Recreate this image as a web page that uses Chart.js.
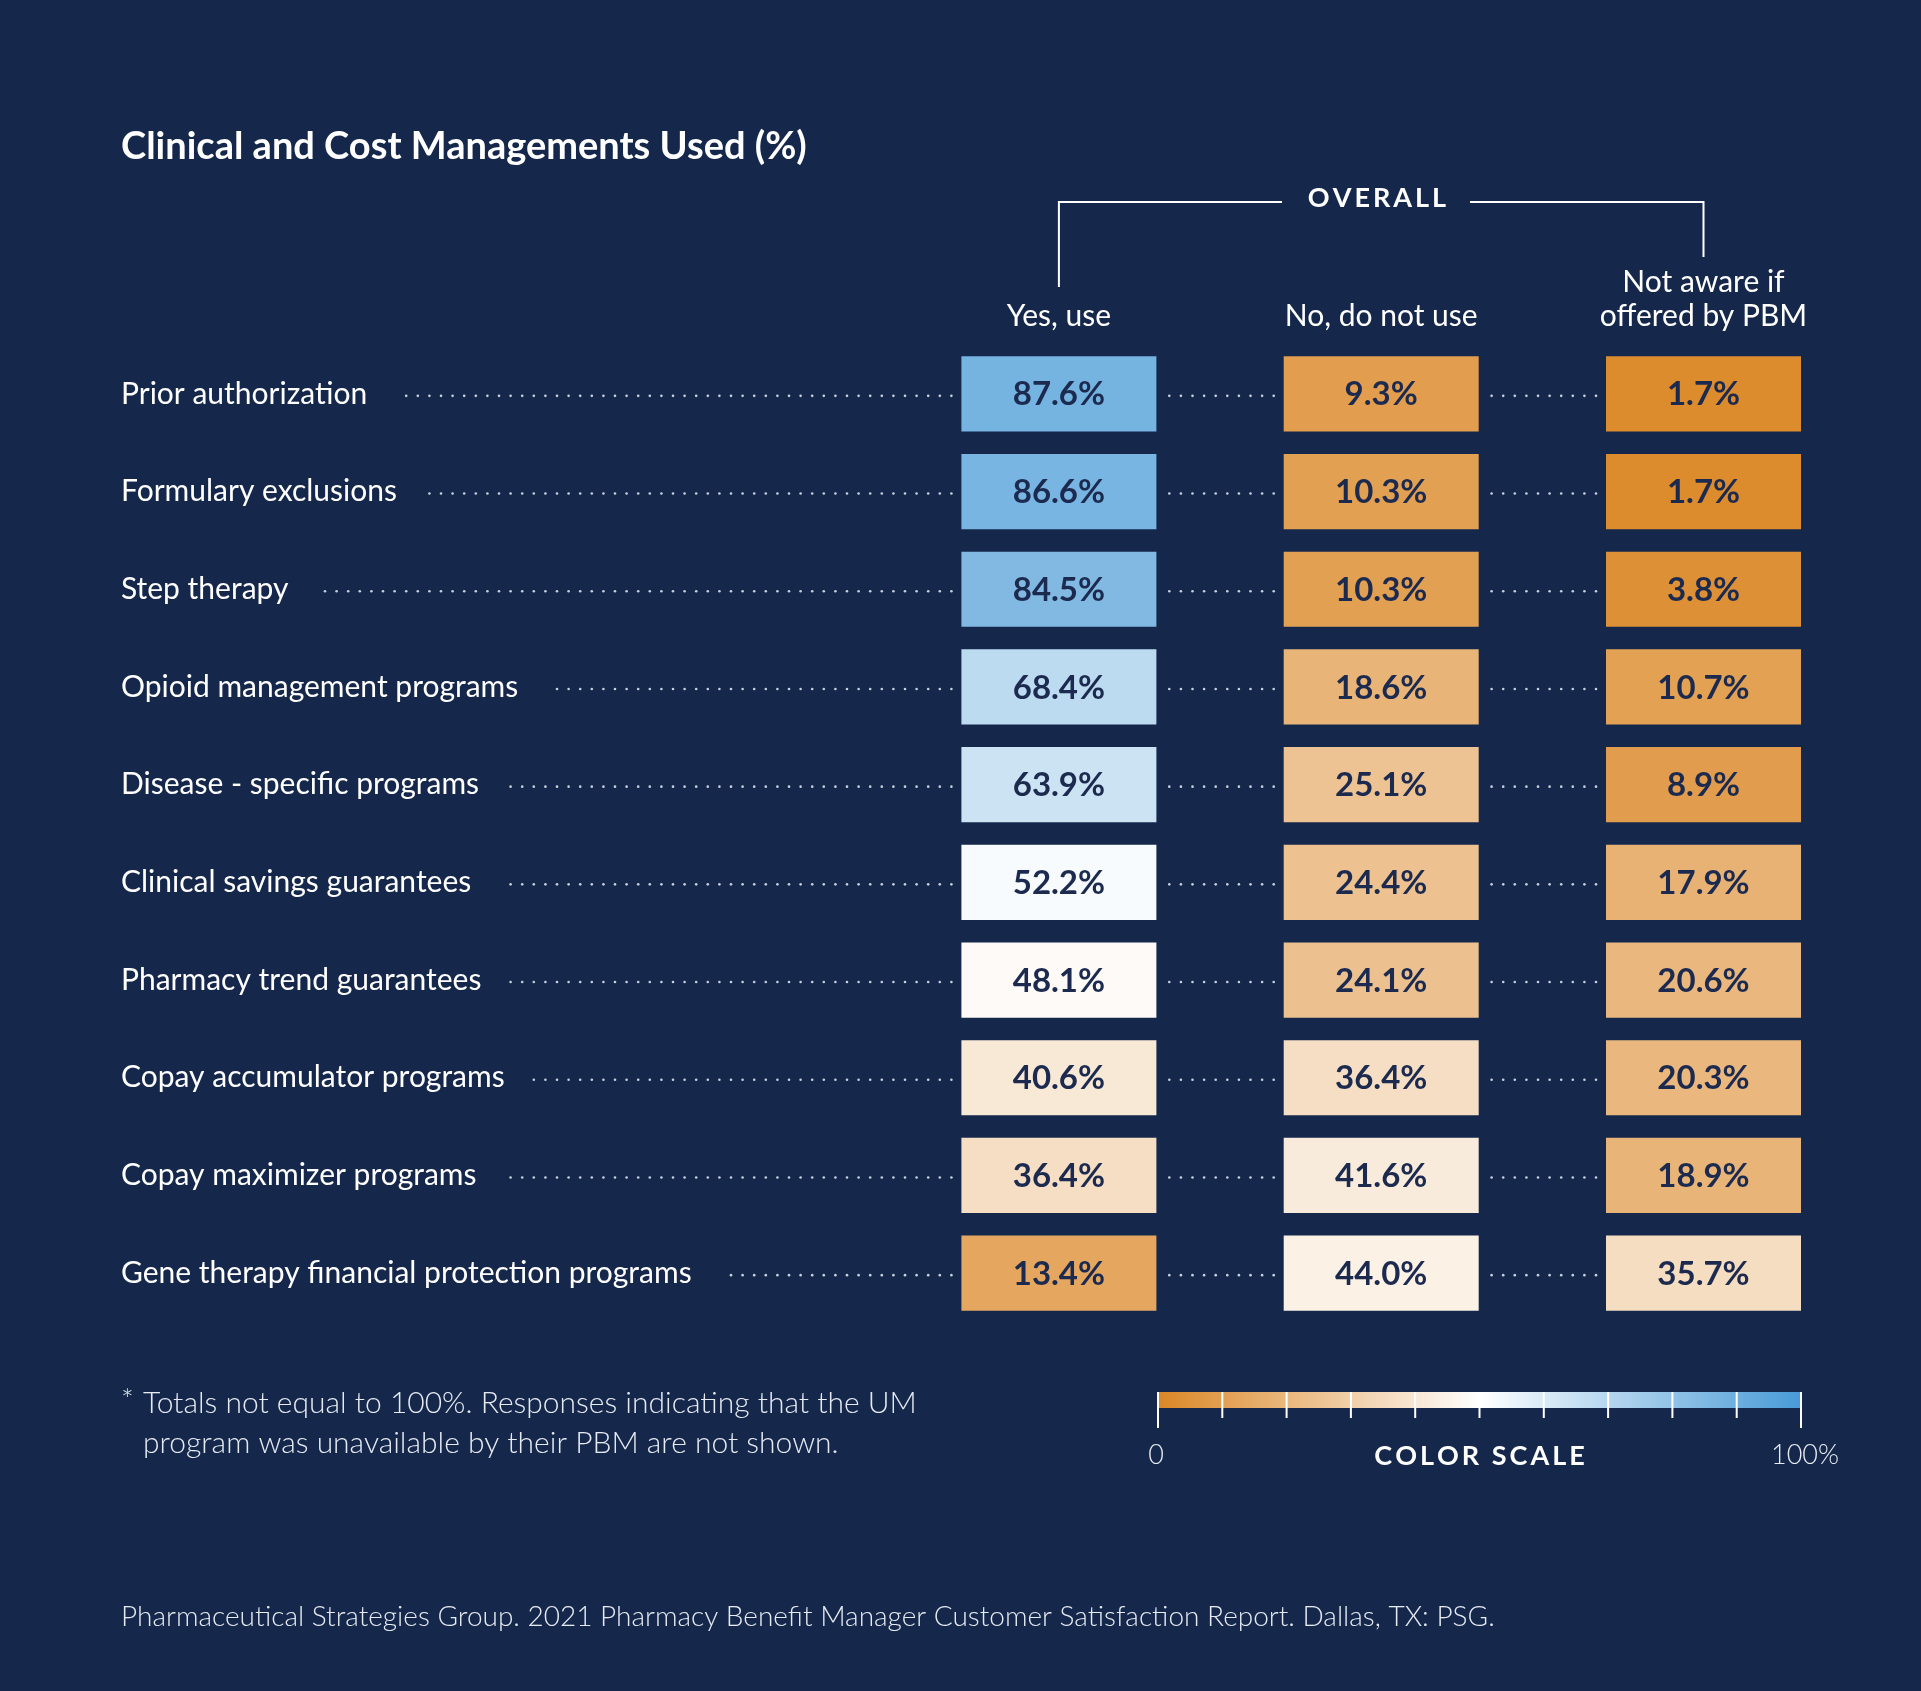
<!DOCTYPE html>
<html><head><meta charset="utf-8">
<script src="https://cdn.jsdelivr.net/npm/chart.js@4/dist/chart.umd.min.js"></script>
<style>html,body{margin:0;padding:0;background:#15284c;}#wrap{width:1921px;height:1691px;position:relative}</style>
</head><body><div id="wrap"><canvas id="c"></canvas></div>
<script>
const categories = ["Prior authorization","Formulary exclusions","Step therapy","Opioid management programs","Disease - specific programs","Clinical savings guarantees","Pharmacy trend guarantees","Copay accumulator programs","Copay maximizer programs","Gene therapy financial protection programs"];
const columns = ["Yes, use","No, do not use","Not aware if\noffered by PBM"];
const yesUse = [87.6,86.6,84.5,68.4,63.9,52.2,48.1,40.6,36.4,13.4];
const noUse = [9.3,10.3,10.3,18.6,25.1,24.4,24.1,36.4,41.6,44.0];
const notAware = [1.7,1.7,3.8,10.7,8.9,17.9,20.6,20.3,18.9,35.7];
const series = [yesUse,noUse,notAware];
const scaleLabels = ["0","100%"];

const ORANGE=[219,135,38], WHITE=[255,255,255], BLUE=[72,154,215];
function colorFor(v){
  const t=v/100; let a,b,u;
  if(t<0.5){a=ORANGE;b=WHITE;u=t/0.5;} else {a=WHITE;b=BLUE;u=(t-0.5)/0.5;}
  const c=a.map((x,i)=>Math.round(x+(b[i]-x)*u));
  return `rgb(${c[0]},${c[1]},${c[2]})`;
}
const HW=0.3025;
const datasets = series.map((vals,ci)=>({
  label: columns[ci],
  data: vals.map(()=>[ci-HW,ci+HW]),
  values: vals,
  backgroundColor: vals.map(colorFor),
  borderWidth:0, borderSkipped:false,
  categoryPercentage:0.77, barPercentage:1, grouped:false
}));
const FONT='Lato, "Noto Sans", sans-serif';
function spaced(ctx,text,x,y,sp){ // centered letter-spaced
  let w=0; for(const ch of text) w+=ctx.measureText(ch).width+sp; w-=sp;
  let cx=x-w/2; ctx.textAlign='left';
  for(const ch of text){ctx.fillText(ch,cx,y); cx+=ctx.measureText(ch).width+sp;}
}
function dots(ctx,x1,x2,y){
  ctx.fillStyle='#c9d1de';
  for(let x=x2;x>=x1;x-=11.6){ctx.beginPath();ctx.arc(x,y,1.3,0,Math.PI*2);ctx.fill();}
}
const deco={id:'deco',
 afterDatasetsDraw(chart){
  const ctx=chart.ctx, xs=chart.scales.x, ys=chart.scales.y;
  ctx.save(); ctx.textBaseline='middle';
  // values
  chart.data.datasets.forEach((ds,ci)=>{
    const meta=chart.getDatasetMeta(ci);
    meta.data.forEach((bar,ri)=>{
      ctx.fillStyle='#1b2a4e'; ctx.font='bold 33px '+FONT; ctx.textAlign='center';
      ctx.fillText(ds.values[ri].toFixed(1)+'%', xs.getPixelForValue(ci), bar.y+1);
    });
  });
  // row labels + leaders
  categories.forEach((c,ri)=>{
    const y=ys.getPixelForValue(ri);
    ctx.fillStyle='#ffffff'; ctx.font='30px '+FONT; ctx.textAlign='left';
    ctx.fillText(c, chart.chartArea.left, y);
    const w=ctx.measureText(c).width;
    dots(ctx, chart.chartArea.left+w+28, xs.getPixelForValue(0-HW)-10, y+2);
    for(let ci=0;ci<2;ci++) dots(ctx, xs.getPixelForValue(ci+HW)+12, xs.getPixelForValue(ci+1-HW)-10, y+2);
  });
  // column headers
  ctx.fillStyle='#ffffff'; ctx.font='30px '+FONT; ctx.textAlign='center';
  columns.forEach((h,ci)=>{
    const lines=h.split('\n'); const x=xs.getPixelForValue(ci);
    lines.forEach((l,li)=>ctx.fillText(l,x,316-(lines.length-1-li)*34));
  });
  // OVERALL bracket
  const xl=xs.getPixelForValue(0), xr=xs.getPixelForValue(2);
  ctx.strokeStyle='#ffffff'; ctx.lineWidth=2;
  ctx.beginPath(); ctx.moveTo(xl,287); ctx.lineTo(xl,202); ctx.lineTo(1282,202);
  ctx.moveTo(1470,202); ctx.lineTo(xr,202); ctx.lineTo(xr,257); ctx.stroke();
  ctx.font='bold 27px '+FONT; ctx.fillStyle='#ffffff'; spaced(ctx,'OVERALL',1377,198,3);
  // title
  ctx.textAlign='left'; ctx.font='bold 38px '+FONT; ctx.fillText('Clinical and Cost Managements Used (%)',121,147);
  // footnote
  ctx.font='300 30px '+FONT; ctx.fillStyle='#e6eaf1';
  ctx.fillText('*',121,1400); ctx.fillText('Totals not equal to 100%. Responses indicating that the UM',143,1403);
  ctx.fillText('program was unavailable by their PBM are not shown.',143,1443);
  // source
  ctx.font='300 28px '+FONT; ctx.fillText('Pharmaceutical Strategies Group. 2021 Pharmacy Benefit Manager Customer Satisfaction Report. Dallas, TX: PSG.',121,1617);
  // color scale
  const L=1158,R=1801,top=1392,h=16,n=10,sw=(R-L)/n;
  const g=ctx.createLinearGradient(L,0,R,0);
  g.addColorStop(0,colorFor(0)); g.addColorStop(0.5,colorFor(50)); g.addColorStop(1,colorFor(100));
  ctx.fillStyle=g; ctx.fillRect(L,top,R-L,h);
  ctx.strokeStyle='#ffffff'; ctx.lineWidth=2; ctx.beginPath();
  for(let i=0;i<=n;i++){const x=L+i*sw; const end=(i===0||i===n)?1428:1418; ctx.moveTo(x,top); ctx.lineTo(x,end);} ctx.stroke();
  ctx.fillStyle='#e6eaf1'; ctx.font='300 27px '+FONT; ctx.textAlign='center';
  ctx.fillText(scaleLabels[0],L-2,1455); ctx.fillText(scaleLabels[1],R+4,1455);
  ctx.fillStyle='#ffffff'; ctx.font='bold 27px '+FONT; spaced(ctx,'COLOR SCALE',(L+R)/2,1456,3);
  ctx.restore();
 }};
new Chart(document.getElementById('c'),{
  type:'bar',
  data:{labels:categories,datasets},
  options:{indexAxis:'y',responsive:true,maintainAspectRatio:false,animation:false,
    layout:{padding:{left:121,right:120,top:345,bottom:369}},
    plugins:{legend:{display:false},tooltip:{enabled:false}},
    scales:{x:{type:'linear',min:-2.91,max:2.3025,display:false},
            y:{display:false,offset:true}}},
  plugins:[deco]
});
</script></body></html>
